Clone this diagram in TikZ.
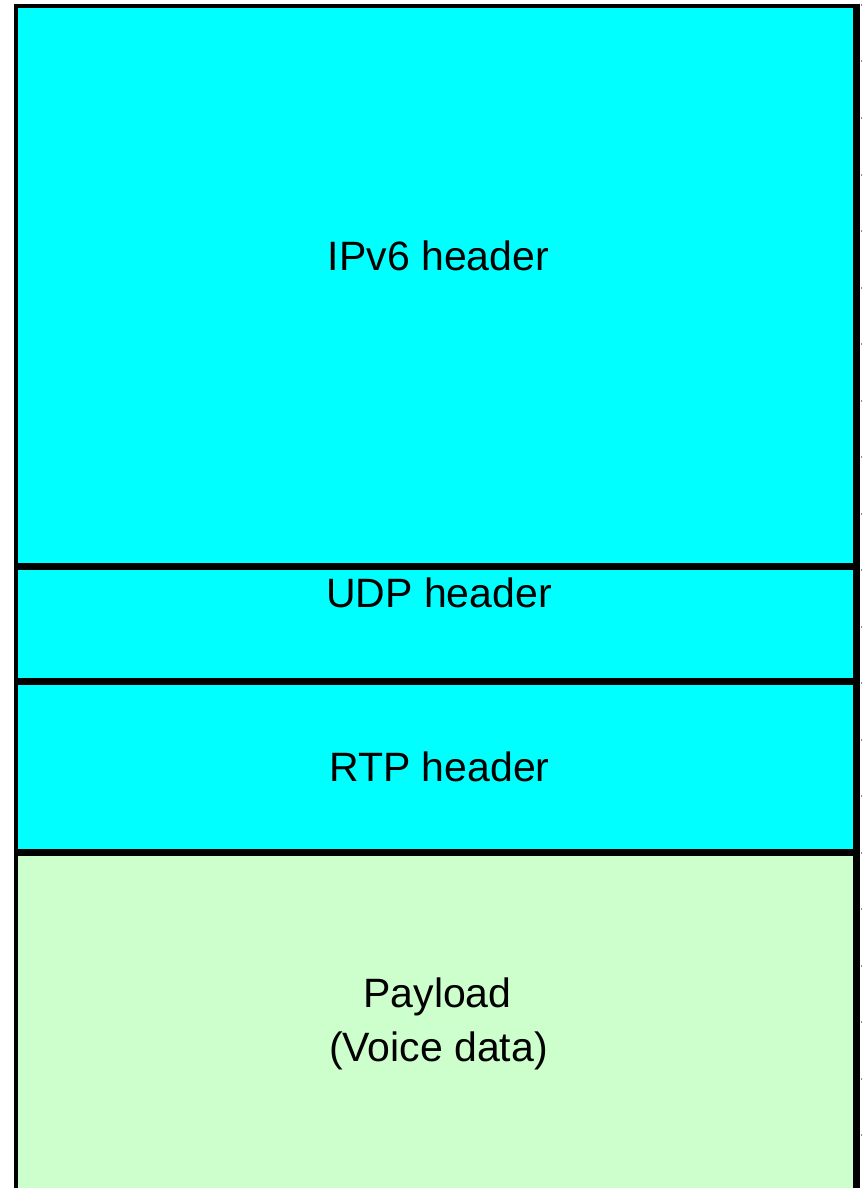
\documentclass[tikz,border=0pt]{standalone}
\usepackage{fontspec}
\setmainfont{Liberation Sans}
\definecolor{hdrcyan}{RGB}{0,255,255}
\definecolor{paygreen}{RGB}{204,255,204}
\begin{document}
\begin{tikzpicture}[x=1pt,y=-1pt,
  lbl/.style={anchor=base,inner sep=0pt,font=\fontsize{41}{54}\selectfont},
  rule/.style={draw=black,line cap=butt}]
\useasboundingbox (0,0) rectangle (864,1188);
% field fills
\fill[hdrcyan] (18,8) rectangle (853,849);
\fill[paygreen] (18,849) rectangle (853,1188);
% outer frame
\draw[rule,line width=4] (16,1188) -- (16,6) -- (856,6);
\draw[rule,line width=7] (856.5,4) -- (856.5,1188);
% field separators
\draw[rule,line width=7] (14,566.5) -- (860,566.5);
\draw[rule,line width=7] (14,681.5) -- (860,681.5);
\draw[rule,line width=7] (14,852.5) -- (860,852.5);
% small ticks along the right edge
\draw[black!45,line width=1,dash pattern=on 2 off 54.5] (861,4) -- (861,1188);
% labels
\node[lbl] (ipv6) at (438.5,270) {IPv6 header};
\node[lbl] (udp) at (439,607) {UDP header};
\node[lbl] (rtp) at (439.5,781) {RTP header};
\node[lbl] (pay) at (437.5,1007) {Payload};
\node[lbl] (voice) at (438.5,1061) {(Voice data)};
\end{tikzpicture}
\end{document}
